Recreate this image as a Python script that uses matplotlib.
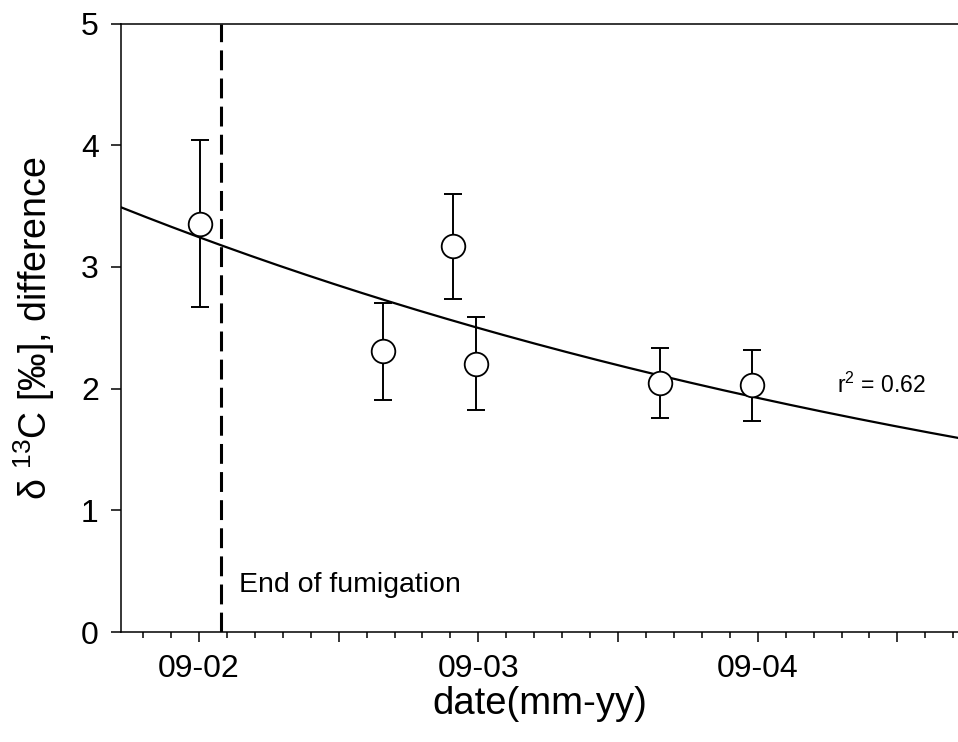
import numpy as np
import matplotlib
matplotlib.use("Agg")
import matplotlib.pyplot as plt
from matplotlib.ticker import FixedLocator, MultipleLocator

plt.rcParams['font.family'] = ['Liberation Sans', 'DejaVu Sans']
plt.rcParams['mathtext.fontset'] = 'custom'
plt.rcParams['mathtext.rm'] = 'Liberation Sans'
plt.rcParams['mathtext.it'] = 'Liberation Sans:italic'

# sampling dates (decimal years) and delta 13C difference with error bars
dates = [2002.754, 2003.410, 2003.658, 2003.741, 2004.401, 2004.730]
delta = [3.355, 2.307, 3.169, 2.206, 2.047, 2.028]
delta_err = [0.685, 0.40, 0.43, 0.38, 0.29, 0.29]

# exponential fit: y = a * exp(-b * (t - t0))
fit_a = 3.49
fit_b = 0.2613
fit_t0 = 2002.471
fit_r2 = 0.62

fumigation_end = 2002.828

tick_pos = [2002.75, 2003.25, 2003.75, 2004.25, 2004.75, 2005.25]
tick_labels = ["09-02", "", "09-03", "", "09-04", ""]

xmin, xmax = 2002.471, 2005.467

fig = plt.figure(figsize=(9.58, 7.42), dpi=100)
ax = fig.add_axes([0.1263, 0.1482, 0.8737, 0.8201])

t = np.linspace(xmin, xmax, 300)
ax.plot(t, fit_a * np.exp(-fit_b * (t - fit_t0)), color="black", lw=1.6, zorder=2)

ax.errorbar(dates, delta, yerr=delta_err, fmt="none", ecolor="black",
            elinewidth=1.4, capsize=6.5, capthick=1.4, zorder=3)
ax.plot(dates, delta, "o", ms=17, mfc="white", mec="black", mew=1.3, zorder=4)

ax.axvline(fumigation_end, color="black", lw=2.2, dashes=(6.5, 2.7), zorder=1)
ax.text(2002.894, 0.386, "End of fumigation", fontsize=20.5, ha="left", va="center")
ax.text(2005.033, 1.965, r"r$^2$ = %.2f" % fit_r2, fontsize=16.5, ha="left", va="baseline")

ax.set_xlim(xmin, xmax)
ax.set_ylim(0, 5)
ax.xaxis.set_major_locator(FixedLocator(tick_pos))
ax.set_xticklabels(tick_labels)
ax.xaxis.set_minor_locator(MultipleLocator(0.1, offset=0.05))
ax.set_yticks([0, 1, 2, 3, 4, 5])

ax.tick_params(axis="both", which="major", direction="out", length=7, width=1.1,
               labelsize=23, pad=9)
ax.tick_params(axis="x", which="minor", direction="out", length=4.3, width=1.1)
ax.tick_params(axis="y", which="major", length=7)

for side in ["left", "bottom", "top"]:
    ax.spines[side].set_linewidth(1.1)
ax.spines["right"].set_visible(False)

ax.set_xlabel("date(mm-yy)", fontsize=27.5, labelpad=1)
ax.set_ylabel(r"δ $^{13}$C [‰], difference", fontsize=27, labelpad=17)

fig.savefig("out.png", dpi=100)
